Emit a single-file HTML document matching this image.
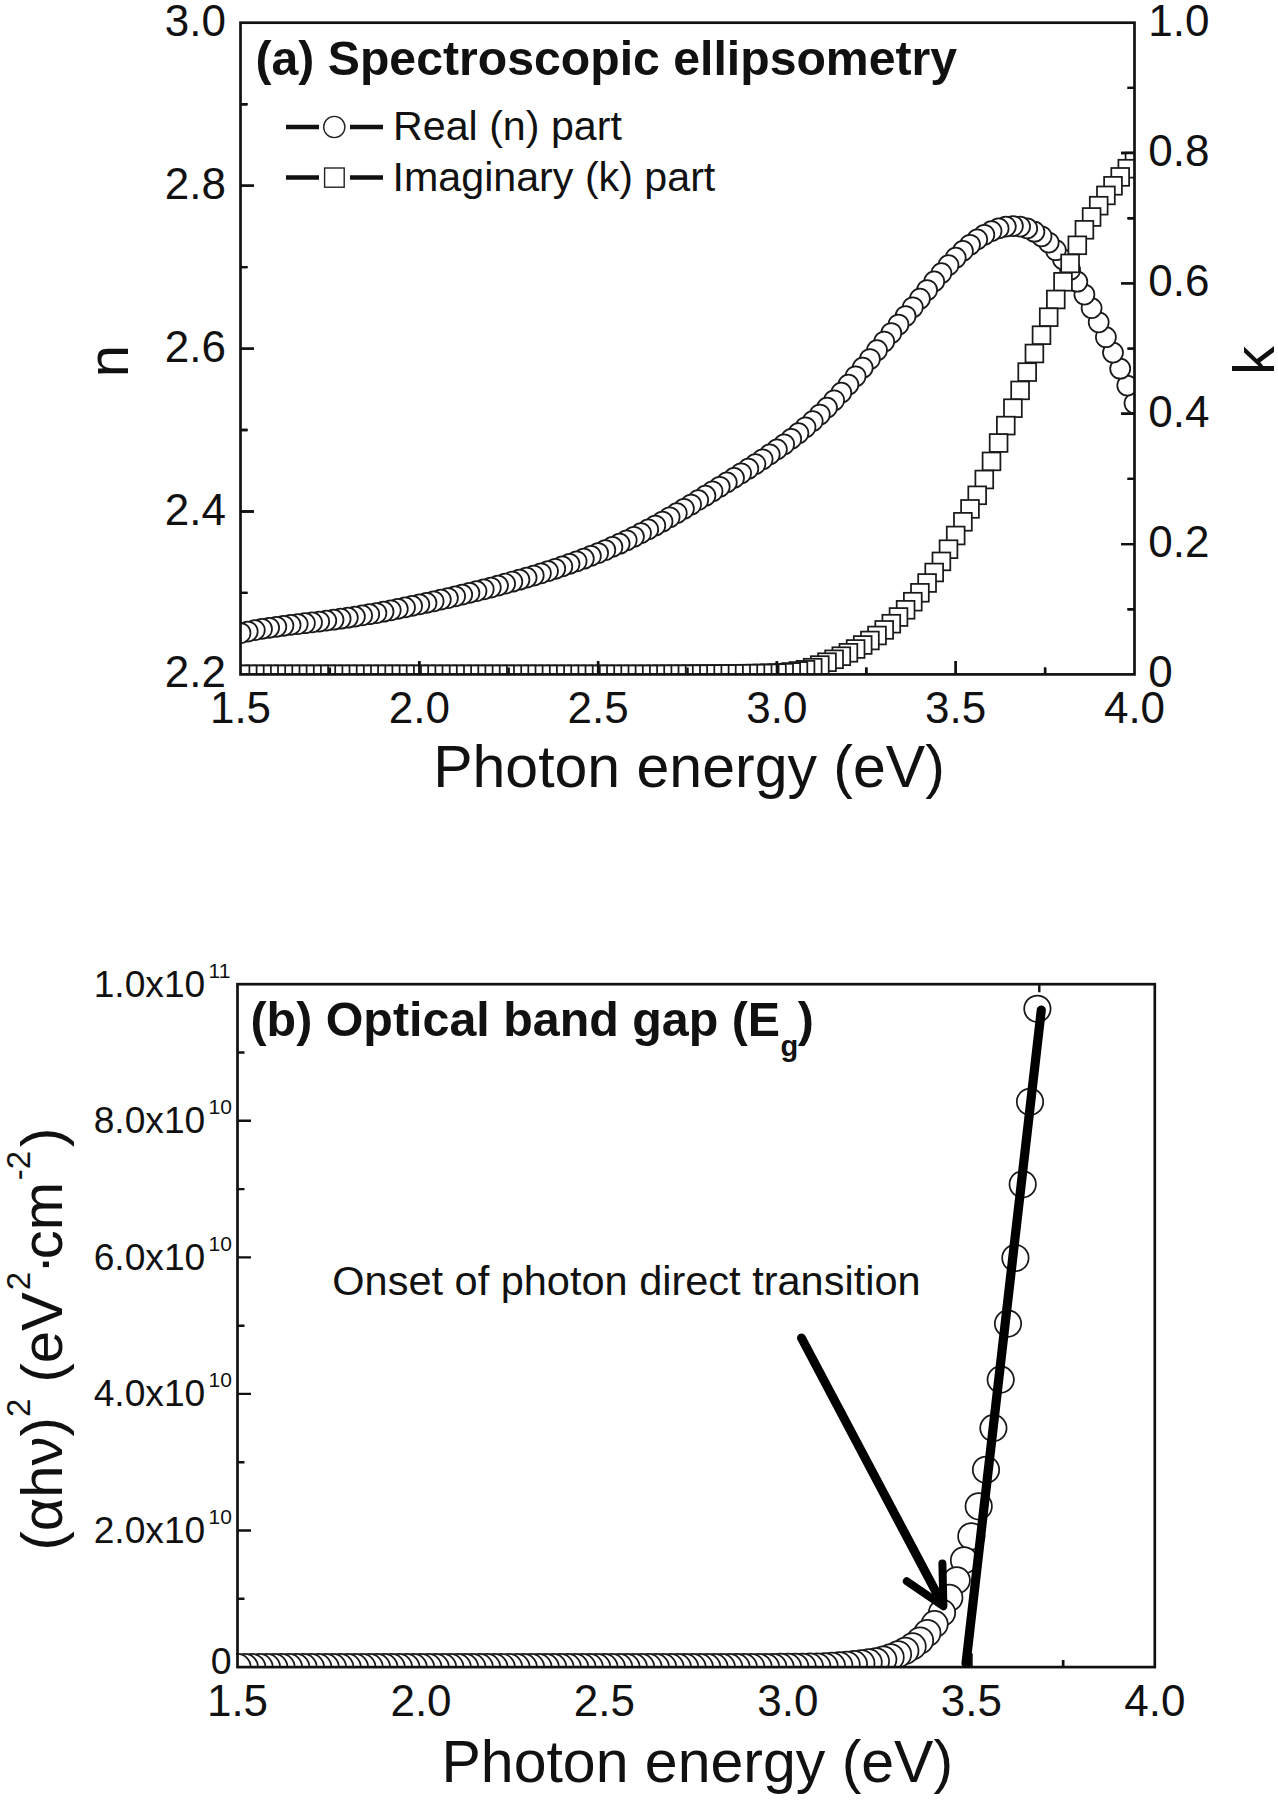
<!DOCTYPE html>
<html lang="en"><head><meta charset="utf-8"><title>Spectroscopic ellipsometry and optical band gap</title>
<style>
html,body{margin:0;padding:0;background:#fff;}
svg{display:block;}
text{font-family:"Liberation Sans", Arial, Helvetica, sans-serif;fill:#111;}
.b{font-weight:bold;}
.ax{stroke:#111;stroke-width:2.7;fill:none;}
.tk{stroke:#111;stroke-width:2.4;fill:none;}
.sym{stroke:#1a1a1a;stroke-width:1.75;fill:#fff;}
</style></head><body>
<svg width="1278" height="1800" viewBox="0 0 1278 1800">
<rect width="1278" height="1800" fill="#fff"/>
<defs>
<clipPath id="ca"><rect x="240.5" y="22.7" width="894.0" height="651.6999999999999"/></clipPath>
<clipPath id="cb"><rect x="236.0" y="984.2" width="918.8" height="682.8999999999999"/></clipPath>
</defs>

<g id="plotA">
<path class="tk" d="M240.5 592.9h7M240.5 511.5h13.5M240.5 430.0h7M240.5 348.6h13.5M240.5 267.1h7M240.5 185.6h13.5M240.5 104.2h7M1134.5 609.2h-7M1134.5 544.1h-13.5M1134.5 478.9h-7M1134.5 413.7h-13.5M1134.5 348.6h-7M1134.5 283.4h-13.5M1134.5 218.2h-7M1134.5 153.0h-13.5M1134.5 87.9h-7M329.9 674.4v-7M419.3 674.4v-13.5M508.7 674.4v-7M598.1 674.4v-13.5M687.5 674.4v-7M776.9 674.4v-13.5M866.3 674.4v-7M955.7 674.4v-13.5M1045.1 674.4v-7"/>
<g clip-path="url(#ca)">
<circle class="sym" cx="1134.5" cy="403.2" r="10.0"/>
<circle class="sym" cx="1127.3" cy="385.5" r="10.0"/>
<circle class="sym" cx="1120.2" cy="368.7" r="10.0"/>
<circle class="sym" cx="1113.0" cy="352.6" r="10.0"/>
<circle class="sym" cx="1105.9" cy="337.2" r="10.0"/>
<circle class="sym" cx="1098.7" cy="322.3" r="10.0"/>
<circle class="sym" cx="1091.6" cy="308.1" r="10.0"/>
<circle class="sym" cx="1084.4" cy="294.5" r="10.0"/>
<circle class="sym" cx="1077.3" cy="281.7" r="10.0"/>
<circle class="sym" cx="1070.1" cy="269.9" r="10.0"/>
<circle class="sym" cx="1063.0" cy="259.4" r="10.0"/>
<circle class="sym" cx="1055.8" cy="250.2" r="10.0"/>
<circle class="sym" cx="1048.7" cy="242.5" r="10.0"/>
<circle class="sym" cx="1041.5" cy="236.3" r="10.0"/>
<circle class="sym" cx="1034.4" cy="231.7" r="10.0"/>
<circle class="sym" cx="1027.2" cy="228.4" r="10.0"/>
<circle class="sym" cx="1020.1" cy="226.6" r="10.0"/>
<circle class="sym" cx="1012.9" cy="226.0" r="10.0"/>
<circle class="sym" cx="1005.8" cy="226.6" r="10.0"/>
<circle class="sym" cx="998.6" cy="228.4" r="10.0"/>
<circle class="sym" cx="991.5" cy="231.1" r="10.0"/>
<circle class="sym" cx="984.3" cy="234.8" r="10.0"/>
<circle class="sym" cx="977.2" cy="239.4" r="10.0"/>
<circle class="sym" cx="970.0" cy="244.8" r="10.0"/>
<circle class="sym" cx="962.9" cy="250.9" r="10.0"/>
<circle class="sym" cx="955.7" cy="257.7" r="10.0"/>
<circle class="sym" cx="948.5" cy="265.1" r="10.0"/>
<circle class="sym" cx="941.4" cy="273.1" r="10.0"/>
<circle class="sym" cx="934.2" cy="281.4" r="10.0"/>
<circle class="sym" cx="927.1" cy="290.0" r="10.0"/>
<circle class="sym" cx="919.9" cy="298.7" r="10.0"/>
<circle class="sym" cx="912.8" cy="307.3" r="10.0"/>
<circle class="sym" cx="905.6" cy="316.0" r="10.0"/>
<circle class="sym" cx="898.5" cy="324.5" r="10.0"/>
<circle class="sym" cx="891.3" cy="333.0" r="10.0"/>
<circle class="sym" cx="884.2" cy="341.5" r="10.0"/>
<circle class="sym" cx="877.0" cy="350.2" r="10.0"/>
<circle class="sym" cx="869.9" cy="359.0" r="10.0"/>
<circle class="sym" cx="862.7" cy="367.7" r="10.0"/>
<circle class="sym" cx="855.6" cy="376.3" r="10.0"/>
<circle class="sym" cx="848.4" cy="384.6" r="10.0"/>
<circle class="sym" cx="841.3" cy="392.6" r="10.0"/>
<circle class="sym" cx="834.1" cy="400.3" r="10.0"/>
<circle class="sym" cx="827.0" cy="407.6" r="10.0"/>
<circle class="sym" cx="819.8" cy="414.5" r="10.0"/>
<circle class="sym" cx="812.7" cy="421.1" r="10.0"/>
<circle class="sym" cx="805.5" cy="427.3" r="10.0"/>
<circle class="sym" cx="798.4" cy="433.2" r="10.0"/>
<circle class="sym" cx="791.2" cy="438.9" r="10.0"/>
<circle class="sym" cx="784.1" cy="444.3" r="10.0"/>
<circle class="sym" cx="776.9" cy="449.4" r="10.0"/>
<circle class="sym" cx="769.7" cy="454.4" r="10.0"/>
<circle class="sym" cx="762.6" cy="459.3" r="10.0"/>
<circle class="sym" cx="755.4" cy="464.1" r="10.0"/>
<circle class="sym" cx="748.3" cy="468.7" r="10.0"/>
<circle class="sym" cx="741.1" cy="473.3" r="10.0"/>
<circle class="sym" cx="734.0" cy="477.9" r="10.0"/>
<circle class="sym" cx="726.8" cy="482.4" r="10.0"/>
<circle class="sym" cx="719.7" cy="486.8" r="10.0"/>
<circle class="sym" cx="712.5" cy="491.3" r="10.0"/>
<circle class="sym" cx="705.4" cy="495.7" r="10.0"/>
<circle class="sym" cx="698.2" cy="500.1" r="10.0"/>
<circle class="sym" cx="691.1" cy="504.5" r="10.0"/>
<circle class="sym" cx="683.9" cy="508.8" r="10.0"/>
<circle class="sym" cx="676.8" cy="513.1" r="10.0"/>
<circle class="sym" cx="669.6" cy="517.3" r="10.0"/>
<circle class="sym" cx="662.5" cy="521.5" r="10.0"/>
<circle class="sym" cx="655.3" cy="525.5" r="10.0"/>
<circle class="sym" cx="648.2" cy="529.4" r="10.0"/>
<circle class="sym" cx="641.0" cy="533.1" r="10.0"/>
<circle class="sym" cx="633.9" cy="536.8" r="10.0"/>
<circle class="sym" cx="626.7" cy="540.3" r="10.0"/>
<circle class="sym" cx="619.6" cy="543.7" r="10.0"/>
<circle class="sym" cx="612.4" cy="546.9" r="10.0"/>
<circle class="sym" cx="605.3" cy="550.0" r="10.0"/>
<circle class="sym" cx="598.1" cy="553.0" r="10.0"/>
<circle class="sym" cx="590.9" cy="555.9" r="10.0"/>
<circle class="sym" cx="583.8" cy="558.7" r="10.0"/>
<circle class="sym" cx="576.6" cy="561.3" r="10.0"/>
<circle class="sym" cx="569.5" cy="563.9" r="10.0"/>
<circle class="sym" cx="562.3" cy="566.4" r="10.0"/>
<circle class="sym" cx="555.2" cy="568.8" r="10.0"/>
<circle class="sym" cx="548.0" cy="571.1" r="10.0"/>
<circle class="sym" cx="540.9" cy="573.3" r="10.0"/>
<circle class="sym" cx="533.7" cy="575.5" r="10.0"/>
<circle class="sym" cx="526.6" cy="577.6" r="10.0"/>
<circle class="sym" cx="519.4" cy="579.7" r="10.0"/>
<circle class="sym" cx="512.3" cy="581.7" r="10.0"/>
<circle class="sym" cx="505.1" cy="583.7" r="10.0"/>
<circle class="sym" cx="498.0" cy="585.6" r="10.0"/>
<circle class="sym" cx="490.8" cy="587.5" r="10.0"/>
<circle class="sym" cx="483.7" cy="589.3" r="10.0"/>
<circle class="sym" cx="476.5" cy="591.1" r="10.0"/>
<circle class="sym" cx="469.4" cy="592.9" r="10.0"/>
<circle class="sym" cx="462.2" cy="594.6" r="10.0"/>
<circle class="sym" cx="455.1" cy="596.3" r="10.0"/>
<circle class="sym" cx="447.9" cy="598.0" r="10.0"/>
<circle class="sym" cx="440.8" cy="599.6" r="10.0"/>
<circle class="sym" cx="433.6" cy="601.3" r="10.0"/>
<circle class="sym" cx="426.5" cy="602.9" r="10.0"/>
<circle class="sym" cx="419.3" cy="604.4" r="10.0"/>
<circle class="sym" cx="412.1" cy="605.9" r="10.0"/>
<circle class="sym" cx="405.0" cy="607.4" r="10.0"/>
<circle class="sym" cx="397.8" cy="608.9" r="10.0"/>
<circle class="sym" cx="390.7" cy="610.3" r="10.0"/>
<circle class="sym" cx="383.5" cy="611.7" r="10.0"/>
<circle class="sym" cx="376.4" cy="613.0" r="10.0"/>
<circle class="sym" cx="369.2" cy="614.2" r="10.0"/>
<circle class="sym" cx="362.1" cy="615.4" r="10.0"/>
<circle class="sym" cx="354.9" cy="616.6" r="10.0"/>
<circle class="sym" cx="347.8" cy="617.7" r="10.0"/>
<circle class="sym" cx="340.6" cy="618.7" r="10.0"/>
<circle class="sym" cx="333.5" cy="619.7" r="10.0"/>
<circle class="sym" cx="326.3" cy="620.6" r="10.0"/>
<circle class="sym" cx="319.2" cy="621.5" r="10.0"/>
<circle class="sym" cx="312.0" cy="622.4" r="10.0"/>
<circle class="sym" cx="304.9" cy="623.2" r="10.0"/>
<circle class="sym" cx="297.7" cy="624.1" r="10.0"/>
<circle class="sym" cx="290.6" cy="624.9" r="10.0"/>
<circle class="sym" cx="283.4" cy="625.8" r="10.0"/>
<circle class="sym" cx="276.3" cy="626.8" r="10.0"/>
<circle class="sym" cx="269.1" cy="627.8" r="10.0"/>
<circle class="sym" cx="262.0" cy="628.9" r="10.0"/>
<circle class="sym" cx="254.8" cy="630.1" r="10.0"/>
<circle class="sym" cx="247.7" cy="631.5" r="10.0"/>
<circle class="sym" cx="240.5" cy="633.0" r="10.0"/>
<rect class="sym" x="1125.6" y="152.6" width="17.8" height="17.8"/>
<rect class="sym" x="1118.4" y="159.8" width="17.8" height="17.8"/>
<rect class="sym" x="1111.3" y="168.0" width="17.8" height="17.8"/>
<rect class="sym" x="1104.1" y="176.9" width="17.8" height="17.8"/>
<rect class="sym" x="1097.0" y="186.5" width="17.8" height="17.8"/>
<rect class="sym" x="1089.8" y="196.8" width="17.8" height="17.8"/>
<rect class="sym" x="1082.7" y="208.1" width="17.8" height="17.8"/>
<rect class="sym" x="1075.5" y="220.9" width="17.8" height="17.8"/>
<rect class="sym" x="1068.4" y="236.4" width="17.8" height="17.8"/>
<rect class="sym" x="1061.2" y="254.5" width="17.8" height="17.8"/>
<rect class="sym" x="1054.1" y="272.9" width="17.8" height="17.8"/>
<rect class="sym" x="1046.9" y="290.6" width="17.8" height="17.8"/>
<rect class="sym" x="1039.8" y="308.3" width="17.8" height="17.8"/>
<rect class="sym" x="1032.6" y="326.3" width="17.8" height="17.8"/>
<rect class="sym" x="1025.5" y="344.6" width="17.8" height="17.8"/>
<rect class="sym" x="1018.3" y="363.2" width="17.8" height="17.8"/>
<rect class="sym" x="1011.2" y="381.5" width="17.8" height="17.8"/>
<rect class="sym" x="1004.0" y="399.3" width="17.8" height="17.8"/>
<rect class="sym" x="996.9" y="416.7" width="17.8" height="17.8"/>
<rect class="sym" x="989.7" y="434.1" width="17.8" height="17.8"/>
<rect class="sym" x="982.6" y="452.5" width="17.8" height="17.8"/>
<rect class="sym" x="975.4" y="470.6" width="17.8" height="17.8"/>
<rect class="sym" x="968.3" y="486.4" width="17.8" height="17.8"/>
<rect class="sym" x="961.1" y="500.0" width="17.8" height="17.8"/>
<rect class="sym" x="954.0" y="512.9" width="17.8" height="17.8"/>
<rect class="sym" x="946.8" y="526.6" width="17.8" height="17.8"/>
<rect class="sym" x="939.6" y="540.3" width="17.8" height="17.8"/>
<rect class="sym" x="932.5" y="552.5" width="17.8" height="17.8"/>
<rect class="sym" x="925.3" y="563.6" width="17.8" height="17.8"/>
<rect class="sym" x="918.2" y="574.1" width="17.8" height="17.8"/>
<rect class="sym" x="911.0" y="583.9" width="17.8" height="17.8"/>
<rect class="sym" x="903.9" y="592.8" width="17.8" height="17.8"/>
<rect class="sym" x="896.7" y="600.9" width="17.8" height="17.8"/>
<rect class="sym" x="889.6" y="608.1" width="17.8" height="17.8"/>
<rect class="sym" x="882.4" y="614.8" width="17.8" height="17.8"/>
<rect class="sym" x="875.3" y="621.0" width="17.8" height="17.8"/>
<rect class="sym" x="868.1" y="626.6" width="17.8" height="17.8"/>
<rect class="sym" x="861.0" y="631.6" width="17.8" height="17.8"/>
<rect class="sym" x="853.8" y="636.1" width="17.8" height="17.8"/>
<rect class="sym" x="846.7" y="640.1" width="17.8" height="17.8"/>
<rect class="sym" x="839.5" y="643.9" width="17.8" height="17.8"/>
<rect class="sym" x="832.4" y="647.3" width="17.8" height="17.8"/>
<rect class="sym" x="825.2" y="650.4" width="17.8" height="17.8"/>
<rect class="sym" x="818.1" y="653.3" width="17.8" height="17.8"/>
<rect class="sym" x="810.9" y="656.2" width="17.8" height="17.8"/>
<rect class="sym" x="803.8" y="658.8" width="17.8" height="17.8"/>
<rect class="sym" x="796.6" y="660.9" width="17.8" height="17.8"/>
<rect class="sym" x="789.5" y="662.1" width="17.8" height="17.8"/>
<rect class="sym" x="782.3" y="663.1" width="17.8" height="17.8"/>
<rect class="sym" x="775.2" y="663.8" width="17.8" height="17.8"/>
<rect class="sym" x="768.0" y="664.2" width="17.8" height="17.8"/>
<rect class="sym" x="760.8" y="664.4" width="17.8" height="17.8"/>
<rect class="sym" x="753.7" y="664.6" width="17.8" height="17.8"/>
<rect class="sym" x="746.5" y="664.7" width="17.8" height="17.8"/>
<rect class="sym" x="739.4" y="664.8" width="17.8" height="17.8"/>
<rect class="sym" x="732.2" y="664.9" width="17.8" height="17.8"/>
<rect class="sym" x="725.1" y="665.0" width="17.8" height="17.8"/>
<rect class="sym" x="717.9" y="665.1" width="17.8" height="17.8"/>
<rect class="sym" x="710.8" y="665.1" width="17.8" height="17.8"/>
<rect class="sym" x="703.6" y="665.2" width="17.8" height="17.8"/>
<rect class="sym" x="696.5" y="665.2" width="17.8" height="17.8"/>
<rect class="sym" x="689.3" y="665.3" width="17.8" height="17.8"/>
<rect class="sym" x="682.2" y="665.3" width="17.8" height="17.8"/>
<rect class="sym" x="675.0" y="665.4" width="17.8" height="17.8"/>
<rect class="sym" x="667.9" y="665.4" width="17.8" height="17.8"/>
<rect class="sym" x="660.7" y="665.4" width="17.8" height="17.8"/>
<rect class="sym" x="653.6" y="665.4" width="17.8" height="17.8"/>
<rect class="sym" x="646.4" y="665.5" width="17.8" height="17.8"/>
<rect class="sym" x="639.3" y="665.5" width="17.8" height="17.8"/>
<rect class="sym" x="632.1" y="665.5" width="17.8" height="17.8"/>
<rect class="sym" x="625.0" y="665.5" width="17.8" height="17.8"/>
<rect class="sym" x="617.8" y="665.5" width="17.8" height="17.8"/>
<rect class="sym" x="610.7" y="665.5" width="17.8" height="17.8"/>
<rect class="sym" x="603.5" y="665.5" width="17.8" height="17.8"/>
<rect class="sym" x="596.4" y="665.5" width="17.8" height="17.8"/>
<rect class="sym" x="589.2" y="665.5" width="17.8" height="17.8"/>
<rect class="sym" x="582.0" y="665.5" width="17.8" height="17.8"/>
<rect class="sym" x="574.9" y="665.5" width="17.8" height="17.8"/>
<rect class="sym" x="567.7" y="665.5" width="17.8" height="17.8"/>
<rect class="sym" x="560.6" y="665.5" width="17.8" height="17.8"/>
<rect class="sym" x="553.4" y="665.5" width="17.8" height="17.8"/>
<rect class="sym" x="546.3" y="665.5" width="17.8" height="17.8"/>
<rect class="sym" x="539.1" y="665.5" width="17.8" height="17.8"/>
<rect class="sym" x="532.0" y="665.5" width="17.8" height="17.8"/>
<rect class="sym" x="524.8" y="665.5" width="17.8" height="17.8"/>
<rect class="sym" x="517.7" y="665.5" width="17.8" height="17.8"/>
<rect class="sym" x="510.5" y="665.5" width="17.8" height="17.8"/>
<rect class="sym" x="503.4" y="665.5" width="17.8" height="17.8"/>
<rect class="sym" x="496.2" y="665.5" width="17.8" height="17.8"/>
<rect class="sym" x="489.1" y="665.5" width="17.8" height="17.8"/>
<rect class="sym" x="481.9" y="665.5" width="17.8" height="17.8"/>
<rect class="sym" x="474.8" y="665.5" width="17.8" height="17.8"/>
<rect class="sym" x="467.6" y="665.5" width="17.8" height="17.8"/>
<rect class="sym" x="460.5" y="665.5" width="17.8" height="17.8"/>
<rect class="sym" x="453.3" y="665.5" width="17.8" height="17.8"/>
<rect class="sym" x="446.2" y="665.5" width="17.8" height="17.8"/>
<rect class="sym" x="439.0" y="665.5" width="17.8" height="17.8"/>
<rect class="sym" x="431.9" y="665.5" width="17.8" height="17.8"/>
<rect class="sym" x="424.7" y="665.5" width="17.8" height="17.8"/>
<rect class="sym" x="417.6" y="665.5" width="17.8" height="17.8"/>
<rect class="sym" x="410.4" y="665.5" width="17.8" height="17.8"/>
<rect class="sym" x="403.2" y="665.5" width="17.8" height="17.8"/>
<rect class="sym" x="396.1" y="665.5" width="17.8" height="17.8"/>
<rect class="sym" x="388.9" y="665.5" width="17.8" height="17.8"/>
<rect class="sym" x="381.8" y="665.5" width="17.8" height="17.8"/>
<rect class="sym" x="374.6" y="665.5" width="17.8" height="17.8"/>
<rect class="sym" x="367.5" y="665.5" width="17.8" height="17.8"/>
<rect class="sym" x="360.3" y="665.5" width="17.8" height="17.8"/>
<rect class="sym" x="353.2" y="665.5" width="17.8" height="17.8"/>
<rect class="sym" x="346.0" y="665.5" width="17.8" height="17.8"/>
<rect class="sym" x="338.9" y="665.5" width="17.8" height="17.8"/>
<rect class="sym" x="331.7" y="665.5" width="17.8" height="17.8"/>
<rect class="sym" x="324.6" y="665.5" width="17.8" height="17.8"/>
<rect class="sym" x="317.4" y="665.5" width="17.8" height="17.8"/>
<rect class="sym" x="310.3" y="665.5" width="17.8" height="17.8"/>
<rect class="sym" x="303.1" y="665.5" width="17.8" height="17.8"/>
<rect class="sym" x="296.0" y="665.5" width="17.8" height="17.8"/>
<rect class="sym" x="288.8" y="665.5" width="17.8" height="17.8"/>
<rect class="sym" x="281.7" y="665.5" width="17.8" height="17.8"/>
<rect class="sym" x="274.5" y="665.5" width="17.8" height="17.8"/>
<rect class="sym" x="267.4" y="665.5" width="17.8" height="17.8"/>
<rect class="sym" x="260.2" y="665.5" width="17.8" height="17.8"/>
<rect class="sym" x="253.1" y="665.5" width="17.8" height="17.8"/>
<rect class="sym" x="245.9" y="665.5" width="17.8" height="17.8"/>
<rect class="sym" x="238.8" y="665.5" width="17.8" height="17.8"/>
<rect class="sym" x="231.6" y="665.5" width="17.8" height="17.8"/>
</g>
<path class="tk" d="M240.5 592.9h7M240.5 511.5h13.5M240.5 430.0h7M240.5 348.6h13.5M240.5 267.1h7M240.5 185.6h13.5M240.5 104.2h7M1134.5 609.2h-7M1134.5 544.1h-13.5M1134.5 478.9h-7M1134.5 413.7h-13.5M1134.5 348.6h-7M1134.5 283.4h-13.5M1134.5 218.2h-7M1134.5 153.0h-13.5M1134.5 87.9h-7M329.9 674.4v-7M419.3 674.4v-13.5M508.7 674.4v-7M598.1 674.4v-13.5M687.5 674.4v-7M776.9 674.4v-13.5M866.3 674.4v-7M955.7 674.4v-13.5M1045.1 674.4v-7"/>
<rect class="ax" x="240.5" y="22.7" width="894.0" height="651.6999999999999"/>
<text x="226" y="687.4" font-size="44" text-anchor="end">2.2</text>
<text x="226" y="524.5" font-size="44" text-anchor="end">2.4</text>
<text x="226" y="361.6" font-size="44" text-anchor="end">2.6</text>
<text x="226" y="198.6" font-size="44" text-anchor="end">2.8</text>
<text x="226" y="35.7" font-size="44" text-anchor="end">3.0</text>
<text x="1148.3" y="687.4" font-size="44">0</text>
<text x="1148.3" y="557.1" font-size="44">0.2</text>
<text x="1148.3" y="426.7" font-size="44">0.4</text>
<text x="1148.3" y="296.4" font-size="44">0.6</text>
<text x="1148.3" y="166.0" font-size="44">0.8</text>
<text x="1148.3" y="35.7" font-size="44">1.0</text>
<text x="240.5" y="722.8" font-size="44" text-anchor="middle">1.5</text>
<text x="419.3" y="722.8" font-size="44" text-anchor="middle">2.0</text>
<text x="598.1" y="722.8" font-size="44" text-anchor="middle">2.5</text>
<text x="776.9" y="722.8" font-size="44" text-anchor="middle">3.0</text>
<text x="955.7" y="722.8" font-size="44" text-anchor="middle">3.5</text>
<text x="1134.5" y="722.8" font-size="44" text-anchor="middle">4.0</text>
<text x="689" y="787" font-size="59" text-anchor="middle">Photon energy (eV)</text>
<text transform="translate(127.5 361) rotate(-90)" font-size="58" text-anchor="middle">n</text>
<text transform="translate(1274 360.5) rotate(-90)" font-size="58" text-anchor="middle">k</text>
<text class="b" x="255.5" y="75" font-size="48.2">(a) Spectroscopic ellipsometry</text>
<path d="M286 127H319M350 127H383" stroke="#111" stroke-width="4.6" fill="none"/>
<path d="M286 177.5H319M350 177.5H383" stroke="#111" stroke-width="4.6" fill="none"/>
<circle cx="334.3" cy="127" r="10.6" stroke="#222" stroke-width="1.4" fill="#fff"/>
<rect x="324.6" y="168" width="19.6" height="19.2" stroke="#222" stroke-width="1.4" fill="#fff"/>
<text x="393" y="139.8" font-size="41.2">Real (n) part</text>
<text x="392.6" y="191" font-size="41.2">Imaginary (k) part</text>
</g>
<g id="plotB">
<path class="tk" d="M237.5 1598.8h7M237.5 1530.5h13.5M237.5 1462.2h7M237.5 1393.9h13.5M237.5 1325.7h7M237.5 1257.4h13.5M237.5 1189.1h7M237.5 1120.8h13.5M237.5 1052.5h7M329.2 1667.1v-7M421.0 1667.1v-13.5M512.7 1667.1v-7M604.4 1667.1v-13.5M696.1 1667.1v-7M787.9 1667.1v-13.5M879.6 1667.1v-7M971.3 1667.1v-13.5M1063.1 1667.1v-7M1039.3 984.2v8"/>
<g clip-path="url(#cb)">
<circle class="sym" cx="1037.4" cy="1008.8" r="13.2"/>
<circle class="sym" cx="1030.0" cy="1101.7" r="13.2"/>
<circle class="sym" cx="1022.7" cy="1184.3" r="13.2"/>
<circle class="sym" cx="1015.4" cy="1258.0" r="13.2"/>
<circle class="sym" cx="1008.0" cy="1323.6" r="13.2"/>
<circle class="sym" cx="1000.7" cy="1379.6" r="13.2"/>
<circle class="sym" cx="993.4" cy="1428.1" r="13.2"/>
<circle class="sym" cx="986.0" cy="1469.7" r="13.2"/>
<circle class="sym" cx="978.7" cy="1506.3" r="13.2"/>
<circle class="sym" cx="971.3" cy="1536.3" r="13.2"/>
<circle class="sym" cx="964.0" cy="1560.2" r="13.2"/>
<circle class="sym" cx="956.7" cy="1580.2" r="13.2"/>
<circle class="sym" cx="949.3" cy="1597.8" r="13.2"/>
<circle class="sym" cx="942.0" cy="1612.7" r="13.2"/>
<circle class="sym" cx="934.6" cy="1624.1" r="13.2"/>
<circle class="sym" cx="927.3" cy="1633.0" r="13.2"/>
<circle class="sym" cx="920.0" cy="1640.5" r="13.2"/>
<circle class="sym" cx="912.6" cy="1646.4" r="13.2"/>
<circle class="sym" cx="905.3" cy="1650.8" r="13.2"/>
<circle class="sym" cx="898.0" cy="1654.3" r="13.2"/>
<circle class="sym" cx="890.6" cy="1657.2" r="13.2"/>
<circle class="sym" cx="883.3" cy="1659.6" r="13.2"/>
<circle class="sym" cx="875.9" cy="1661.3" r="13.2"/>
<circle class="sym" cx="868.6" cy="1662.4" r="13.2"/>
<circle class="sym" cx="861.3" cy="1663.3" r="13.2"/>
<circle class="sym" cx="853.9" cy="1664.1" r="13.2"/>
<circle class="sym" cx="846.6" cy="1664.7" r="13.2"/>
<circle class="sym" cx="839.2" cy="1665.4" r="13.2"/>
<circle class="sym" cx="831.9" cy="1665.9" r="13.2"/>
<circle class="sym" cx="824.6" cy="1666.3" r="13.2"/>
<circle class="sym" cx="817.2" cy="1666.5" r="13.2"/>
<circle class="sym" cx="809.9" cy="1666.6" r="13.2"/>
<circle class="sym" cx="802.6" cy="1666.8" r="13.2"/>
<circle class="sym" cx="795.2" cy="1666.8" r="13.2"/>
<circle class="sym" cx="787.9" cy="1666.9" r="13.2"/>
<circle class="sym" cx="780.5" cy="1666.9" r="13.2"/>
<circle class="sym" cx="773.2" cy="1667.0" r="13.2"/>
<circle class="sym" cx="765.9" cy="1667.0" r="13.2"/>
<circle class="sym" cx="758.5" cy="1667.0" r="13.2"/>
<circle class="sym" cx="751.2" cy="1667.0" r="13.2"/>
<circle class="sym" cx="743.8" cy="1667.1" r="13.2"/>
<circle class="sym" cx="736.5" cy="1667.1" r="13.2"/>
<circle class="sym" cx="729.2" cy="1667.1" r="13.2"/>
<circle class="sym" cx="721.8" cy="1667.1" r="13.2"/>
<circle class="sym" cx="714.5" cy="1667.1" r="13.2"/>
<circle class="sym" cx="707.2" cy="1667.1" r="13.2"/>
<circle class="sym" cx="699.8" cy="1667.1" r="13.2"/>
<circle class="sym" cx="692.5" cy="1667.1" r="13.2"/>
<circle class="sym" cx="685.1" cy="1667.1" r="13.2"/>
<circle class="sym" cx="677.8" cy="1667.1" r="13.2"/>
<circle class="sym" cx="670.5" cy="1667.1" r="13.2"/>
<circle class="sym" cx="663.1" cy="1667.1" r="13.2"/>
<circle class="sym" cx="655.8" cy="1667.1" r="13.2"/>
<circle class="sym" cx="648.5" cy="1667.1" r="13.2"/>
<circle class="sym" cx="641.1" cy="1667.1" r="13.2"/>
<circle class="sym" cx="633.8" cy="1667.1" r="13.2"/>
<circle class="sym" cx="626.4" cy="1667.1" r="13.2"/>
<circle class="sym" cx="619.1" cy="1667.1" r="13.2"/>
<circle class="sym" cx="611.8" cy="1667.1" r="13.2"/>
<circle class="sym" cx="604.4" cy="1667.1" r="13.2"/>
<circle class="sym" cx="597.1" cy="1667.1" r="13.2"/>
<circle class="sym" cx="589.7" cy="1667.1" r="13.2"/>
<circle class="sym" cx="582.4" cy="1667.1" r="13.2"/>
<circle class="sym" cx="575.1" cy="1667.1" r="13.2"/>
<circle class="sym" cx="567.7" cy="1667.1" r="13.2"/>
<circle class="sym" cx="560.4" cy="1667.1" r="13.2"/>
<circle class="sym" cx="553.1" cy="1667.1" r="13.2"/>
<circle class="sym" cx="545.7" cy="1667.1" r="13.2"/>
<circle class="sym" cx="538.4" cy="1667.1" r="13.2"/>
<circle class="sym" cx="531.0" cy="1667.1" r="13.2"/>
<circle class="sym" cx="523.7" cy="1667.1" r="13.2"/>
<circle class="sym" cx="516.4" cy="1667.1" r="13.2"/>
<circle class="sym" cx="509.0" cy="1667.1" r="13.2"/>
<circle class="sym" cx="501.7" cy="1667.1" r="13.2"/>
<circle class="sym" cx="494.3" cy="1667.1" r="13.2"/>
<circle class="sym" cx="487.0" cy="1667.1" r="13.2"/>
<circle class="sym" cx="479.7" cy="1667.1" r="13.2"/>
<circle class="sym" cx="472.3" cy="1667.1" r="13.2"/>
<circle class="sym" cx="465.0" cy="1667.1" r="13.2"/>
<circle class="sym" cx="457.7" cy="1667.1" r="13.2"/>
<circle class="sym" cx="450.3" cy="1667.1" r="13.2"/>
<circle class="sym" cx="443.0" cy="1667.1" r="13.2"/>
<circle class="sym" cx="435.6" cy="1667.1" r="13.2"/>
<circle class="sym" cx="428.3" cy="1667.1" r="13.2"/>
<circle class="sym" cx="421.0" cy="1667.1" r="13.2"/>
<circle class="sym" cx="413.6" cy="1667.1" r="13.2"/>
<circle class="sym" cx="406.3" cy="1667.1" r="13.2"/>
<circle class="sym" cx="398.9" cy="1667.1" r="13.2"/>
<circle class="sym" cx="391.6" cy="1667.1" r="13.2"/>
<circle class="sym" cx="384.3" cy="1667.1" r="13.2"/>
<circle class="sym" cx="376.9" cy="1667.1" r="13.2"/>
<circle class="sym" cx="369.6" cy="1667.1" r="13.2"/>
<circle class="sym" cx="362.3" cy="1667.1" r="13.2"/>
<circle class="sym" cx="354.9" cy="1667.1" r="13.2"/>
<circle class="sym" cx="347.6" cy="1667.1" r="13.2"/>
<circle class="sym" cx="340.2" cy="1667.1" r="13.2"/>
<circle class="sym" cx="332.9" cy="1667.1" r="13.2"/>
<circle class="sym" cx="325.6" cy="1667.1" r="13.2"/>
<circle class="sym" cx="318.2" cy="1667.1" r="13.2"/>
<circle class="sym" cx="310.9" cy="1667.1" r="13.2"/>
<circle class="sym" cx="303.5" cy="1667.1" r="13.2"/>
<circle class="sym" cx="296.2" cy="1667.1" r="13.2"/>
<circle class="sym" cx="288.9" cy="1667.1" r="13.2"/>
<circle class="sym" cx="281.5" cy="1667.1" r="13.2"/>
<circle class="sym" cx="274.2" cy="1667.1" r="13.2"/>
<circle class="sym" cx="266.9" cy="1667.1" r="13.2"/>
<circle class="sym" cx="259.5" cy="1667.1" r="13.2"/>
<circle class="sym" cx="252.2" cy="1667.1" r="13.2"/>
<circle class="sym" cx="244.8" cy="1667.1" r="13.2"/>
<circle class="sym" cx="237.5" cy="1667.1" r="13.2"/>
</g>
<rect class="ax" x="237.5" y="984.2" width="917.3" height="682.8999999999999"/>
<path class="tk" d="M971.3 1667.1v-13.5M1063.1 1667.1v-7"/>
<path d="M966 1663.5L1041.3 1010" stroke="#000" stroke-width="9.2" stroke-linecap="round" fill="none"/>
<path d="M964.2 1662.8h4.2" stroke="#000" stroke-width="8.6" fill="none"/>
<path d="M801.5 1338L942.6 1604.5" stroke="#000" stroke-width="9" stroke-linecap="round" fill="none"/>
<path d="M906.8 1581.3L943.4 1606.2L942.4 1563.5" stroke="#000" stroke-width="8" stroke-linecap="round" stroke-linejoin="round" fill="none"/>
<text x="231.5" y="1674.1" font-size="37.5" text-anchor="end">0</text>
<text x="205.3" y="1542.8" font-size="37.2" text-anchor="end">2.0x10</text>
<text x="208.6" y="1524.0" font-size="21">10</text>
<text x="205.3" y="1406.2" font-size="37.2" text-anchor="end">4.0x10</text>
<text x="208.6" y="1387.4" font-size="21">10</text>
<text x="205.3" y="1269.7" font-size="37.2" text-anchor="end">6.0x10</text>
<text x="208.6" y="1250.9" font-size="21">10</text>
<text x="205.3" y="1133.1" font-size="37.2" text-anchor="end">8.0x10</text>
<text x="208.6" y="1114.3" font-size="21">10</text>
<text x="205.3" y="996.5" font-size="37.2" text-anchor="end">1.0x10</text>
<text x="208.6" y="977.7" font-size="21">11</text>
<text x="237.5" y="1716" font-size="44" text-anchor="middle">1.5</text>
<text x="421.0" y="1716" font-size="44" text-anchor="middle">2.0</text>
<text x="604.4" y="1716" font-size="44" text-anchor="middle">2.5</text>
<text x="787.9" y="1716" font-size="44" text-anchor="middle">3.0</text>
<text x="971.3" y="1716" font-size="44" text-anchor="middle">3.5</text>
<text x="1154.8" y="1716" font-size="44" text-anchor="middle">4.0</text>
<text x="697.3" y="1781.6" font-size="59" text-anchor="middle">Photon energy (eV)</text>
<text class="b" x="250.5" y="1035.5" font-size="48.4">(b) Optical band gap (E<tspan font-size="29" dy="20.5" dx="0.5">g</tspan><tspan dy="-20.5" dx="-0.5">)</tspan></text>
<text x="332.3" y="1294.6" font-size="41.5">Onset of photon direct transition</text>
<text transform="translate(62 1550.5) rotate(-90)" font-size="58">(αhν)<tspan font-size="33" dy="-32">2</tspan><tspan dy="32"> (eV</tspan><tspan font-size="33" dy="-32" dx="2">2</tspan><tspan dy="32" dx="-2">·</tspan><tspan dx="-4.5">cm</tspan><tspan font-size="33" dy="-32" dx="1.5">-2</tspan><tspan dy="32" dx="4">)</tspan></text>
</g>
</svg></body></html>
